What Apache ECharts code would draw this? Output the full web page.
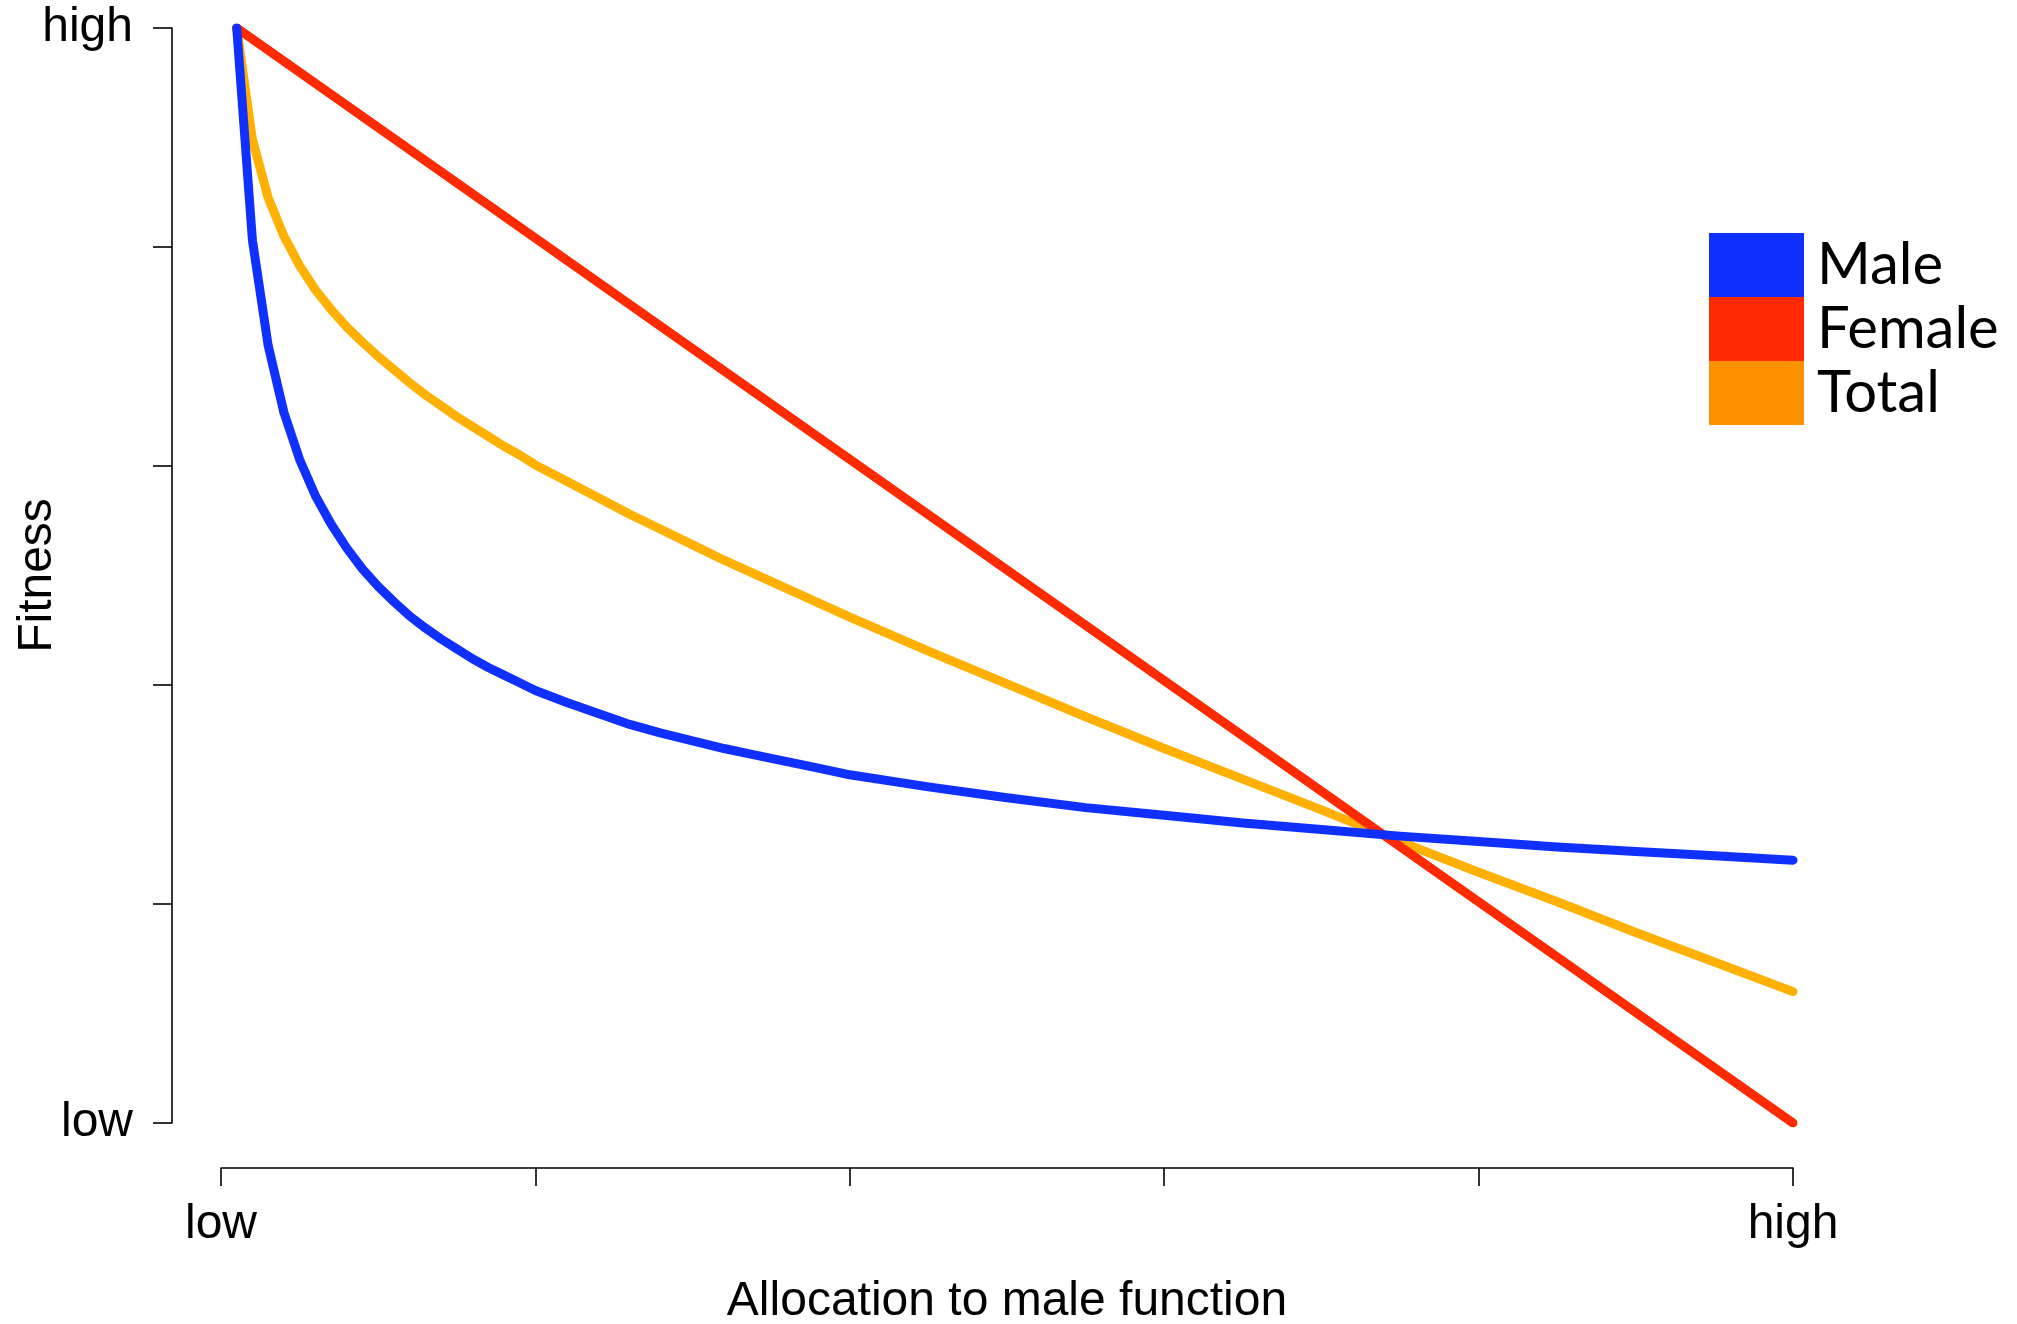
<!DOCTYPE html>
<html>
<head>
<meta charset="utf-8">
<script src="https://cdn.jsdelivr.net/npm/echarts@6/dist/echarts.min.js"></script>
<style>
  html, body { margin: 0; padding: 0; background: #ffffff; }
  #chart { width: 2017px; height: 1324px; }
</style>
</head>
<body>
<div id="chart"></div>
<script>
// Allocation to male function (0 = low, 1 = high)
const allocation = [0.01, 0.02, 0.03, 0.04, 0.05, 0.06, 0.07, 0.08, 0.09, 0.10,
                    0.11, 0.12, 0.13, 0.14, 0.15, 0.16, 0.17, 0.18, 0.19, 0.20,
                    0.22, 0.24, 0.26, 0.28, 0.30, 0.32, 0.34, 0.36, 0.38, 0.40,
                    0.45, 0.50, 0.55, 0.60, 0.65, 0.70, 0.75, 0.80, 0.85, 0.90,
                    0.95, 1.00];
// Fitness values (0 = low, 1 = high)
const maleFitness  = [1.000, 0.806, 0.710, 0.649, 0.606, 0.573, 0.547, 0.525, 0.506, 0.490,
                      0.476, 0.463, 0.452, 0.442, 0.433, 0.424, 0.416, 0.409, 0.402, 0.395,
                      0.384, 0.374, 0.364, 0.356, 0.349, 0.342, 0.336, 0.330, 0.324, 0.318,
                      0.307, 0.297, 0.288, 0.281, 0.274, 0.268, 0.262, 0.257, 0.252, 0.248,
                      0.244, 0.240];
const totalFitness = [1.000, 0.898, 0.845, 0.810, 0.783, 0.761, 0.743, 0.727, 0.713, 0.700,
                      0.688, 0.676, 0.665, 0.655, 0.645, 0.636, 0.627, 0.618, 0.610, 0.601,
                      0.586, 0.571, 0.556, 0.542, 0.528, 0.514, 0.501, 0.488, 0.475, 0.462,
                      0.431, 0.401, 0.371, 0.342, 0.314, 0.286, 0.257, 0.229, 0.202, 0.174,
                      0.147, 0.120];
// Female fitness is a straight line
const femaleAllocation = [0.01, 1.00];
const femaleFitness    = [1.000, 0.000];

const seriesNames  = ['Male', 'Female', 'Total'];
const lineColors   = { Male: '#1030FF', Female: '#FF2A00', Total: '#FFB000' };
const legendColors = { Male: '#1030FF', Female: '#FF2A00', Total: '#FF9100' };
const tickLabels   = { 0: 'low', 1: 'high' };

function pairs(xs, ys) { return xs.map((x, i) => [x, ys[i]]); }

const chart = echarts.init(document.getElementById('chart'), null, { renderer: 'canvas' });
const axisFont = { fontFamily: 'Liberation Sans, Arial, sans-serif', fontSize: 48, color: '#000' };

function lineSeries(name, xs, ys) {
  return {
    name: name, type: 'line', data: pairs(xs, ys),
    showSymbol: false, symbol: 'none', smooth: false,
    lineStyle: { width: 9, color: lineColors[name], cap: 'round', join: 'round' },
    itemStyle: { color: lineColors[name] },
    emphasis: { disabled: true }
  };
}

chart.setOption({
  animation: false,
  backgroundColor: '#ffffff',
  grid: { left: 221, right: 224, top: 28, bottom: 201, containLabel: false, outerBoundsMode: 'none' },
  legend: {
    orient: 'vertical', left: 1704, top: 228,
    itemWidth: 95, itemHeight: 64, itemGap: 0, icon: 'rect',
    selectedMode: false,
    textStyle: { fontFamily: 'Lato, Noto Sans, sans-serif', fontSize: 58, lineHeight: 64, color: '#000', padding: [0, 0, 0, 8] },
    data: seriesNames.map(n => ({ name: n, itemStyle: { color: legendColors[n] } }))
  },
  xAxis: {
    type: 'value', min: 0, max: 1, interval: 0.2, offset: 45,
    name: 'Allocation to male function', nameLocation: 'middle', nameGap: 110,
    nameMoveOverlap: false,
    nameTextStyle: axisFont,
    axisLine: { show: true, onZero: false, lineStyle: { color: '#000', width: 1.6 } },
    axisTick: { show: true, length: 18, lineStyle: { color: '#000', width: 1.6 } },
    axisLabel: { ...axisFont, margin: 33, formatter: v => tickLabels[v] || '' },
    splitLine: { show: false }
  },
  yAxis: {
    type: 'value', min: 0, max: 1, interval: 0.2, offset: 49,
    name: 'Fitness', nameLocation: 'middle', nameGap: 110, nameRotate: 90,
    nameMoveOverlap: false,
    nameTextStyle: axisFont,
    axisLine: { show: true, onZero: false, lineStyle: { color: '#000', width: 1.6 } },
    axisTick: { show: true, length: 19, lineStyle: { color: '#000', width: 1.6 } },
    axisLabel: { ...axisFont, margin: 39, formatter: v => tickLabels[v] || '' },
    splitLine: { show: false }
  },
  series: [
    lineSeries('Total', allocation, totalFitness),
    lineSeries('Female', femaleAllocation, femaleFitness),
    lineSeries('Male', allocation, maleFitness)
  ]
});
</script>
</body>
</html>
